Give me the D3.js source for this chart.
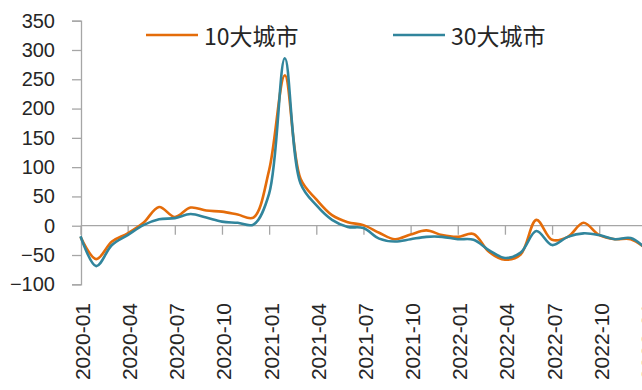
<!DOCTYPE html>
<html>
<head>
<meta charset="utf-8">
<script src="https://cdn.jsdelivr.net/npm/d3@7"></script>
<style>
  html, body { margin: 0; padding: 0; background: #fff; }
  svg { display: block; }
</style>
</head>
<body>
<svg id="chart" width="642" height="390"></svg>
<script>
// Monthly categories, 2020-01 .. 2023-01
const months = [
  "2020-01","2020-02","2020-03","2020-04","2020-05","2020-06","2020-07","2020-08","2020-09","2020-10","2020-11","2020-12",
  "2021-01","2021-02","2021-03","2021-04","2021-05","2021-06","2021-07","2021-08","2021-09","2021-10","2021-11","2021-12",
  "2022-01","2022-02","2022-03","2022-04","2022-05","2022-06","2022-07","2022-08","2022-09","2022-10","2022-11","2022-12",
  "2023-01"
];

// 10大城市
const city10 = [-19, -57, -27, -13, 5, 32, 15, 31, 26, 24, 19, 14,
                95, 257, 80, 45, 18, 6, 1, -12, -23, -15, -8, -16,
                -19, -14, -45, -58, -49, 10, -24, -19, 5, -16, -23, -23,
                -40];

// 30大城市
const city30 = [-18, -69, -33, -16, 1, 11, 13, 20, 14, 7, 5, 2,
                55, 286, 72, 35, 10, -2, -4, -22, -27, -23, -19, -19,
                -23, -24, -42, -55, -46, -9, -33, -19, -13, -16, -23, -21,
                -40];

const yTicks = [-100, -50, 0, 50, 100, 150, 200, 250, 300, 350];
const seriesNames = ["10大城市", "30大城市"];
const seriesColors = ["#E46C0A", "#31859C"];

const svg = d3.select("#chart");
const axisColor = "#A6A6A6";
const textColor = "#262626";

const x = d3.scalePoint().domain(months).range([80.5, 646.4]);
const y = d3.scaleLinear().domain([-100, 350]).range([284.3, 20.7]);

// Y axis
const yAxis = d3.axisLeft(y).tickValues(yTicks).tickSize(9).tickPadding(17).tickFormat(d3.format("d"));
const gy = svg.append("g").attr("transform", "translate(81,0)").call(yAxis);
gy.select(".domain").attr("stroke", axisColor).attr("stroke-width", 1.3);
gy.selectAll(".tick line").attr("stroke", axisColor).attr("stroke-width", 1.3);
gy.selectAll(".tick text")
  .attr("fill", textColor)
  .style("font-family", "'Liberation Sans', Arial, sans-serif")
  .style("font-size", "20px");

// X axis along the zero line, ticks every quarter
const quarterMonths = months.filter((d, i) => i % 3 === 0);
const xAxis = d3.axisBottom(x).tickValues(quarterMonths).tickSize(9).tickSizeOuter(0).tickFormat("");
const gx = svg.append("g").attr("transform", `translate(0,${y(0)})`).call(xAxis);
gx.select(".domain").attr("stroke", axisColor).attr("stroke-width", 1.3)
  .attr("d", `M81,0H650`);
gx.selectAll(".tick line").attr("stroke", axisColor).attr("stroke-width", 1.3);

// Rotated date labels along the bottom
svg.append("g").selectAll("text")
  .data(quarterMonths)
  .join("text")
  .attr("transform", d => `translate(${x(d) + 2},303) rotate(-90)`)
  .attr("text-anchor", "end")
  .attr("dominant-baseline", "central")
  .attr("fill", textColor)
  .style("font-family", "'Liberation Sans', Arial, sans-serif")
  .style("font-size", "21px")
  .text(d => d);

// Smoothed series lines
const line = d3.line()
  .x((d, i) => x(months[i]))
  .y(d => y(d))
  .curve(d3.curveCatmullRom.alpha(0.5));

[city10, city30].forEach((vals, k) => {
  svg.append("path")
    .datum(vals)
    .attr("fill", "none")
    .attr("stroke", seriesColors[k])
    .attr("stroke-width", 2.6)
    .attr("stroke-linejoin", "round")
    .attr("d", line);
});

// Legend
const legendX = [146, 393];
const lg = svg.append("g");
seriesNames.forEach((name, k) => {
  lg.append("line")
    .attr("x1", legendX[k]).attr("x2", legendX[k] + 52)
    .attr("y1", 35).attr("y2", 35)
    .attr("stroke", seriesColors[k]).attr("stroke-width", 2.6);
  lg.append("text")
    .attr("x", legendX[k] + 58).attr("y", 35)
    .attr("dominant-baseline", "central")
    .attr("fill", textColor)
    .style("font-family", "'Noto Sans CJK SC', 'Noto Sans', sans-serif")
    .style("font-size", "23px")
    .text(name);
});
</script>
</body>
</html>
